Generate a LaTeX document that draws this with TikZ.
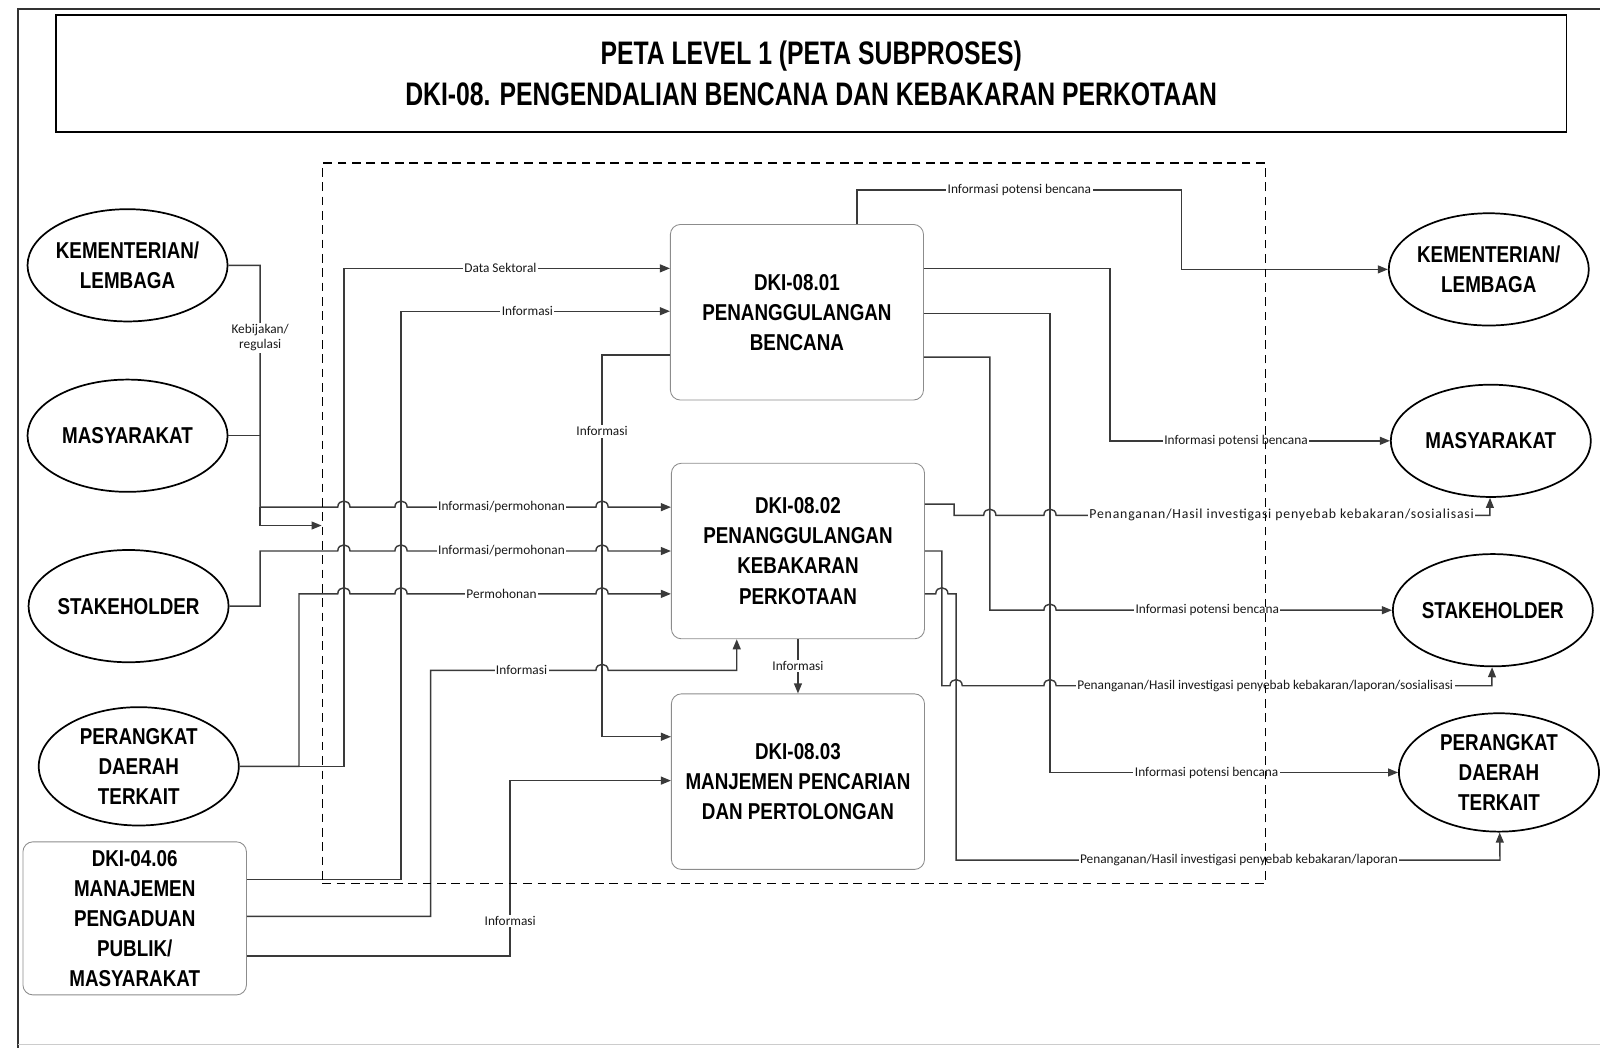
\documentclass[tikz,border=0pt]{standalone}
\usepackage{fontspec}
\setmainfont{Carlito}
\newfontfamily\petanarrow[FakeStretch=0.82]{Liberation Sans}
\newfontfamily\petajudul[FakeStretch=0.76]{Liberation Sans}
\newfontfamily\petalebar[LetterSpace=6]{Carlito}
\usetikzlibrary{arrows.meta,shapes.geometric}
\definecolor{petagaris}{HTML}{3A3A3A}
\definecolor{petatepi}{HTML}{8C8C8C}
\newcommand\petahop[2]{-- (#1-6,#2) .. controls (#1-6,#2-8) and (#1+6,#2-8) .. (#1+6,#2)}
\tikzset{%
  petaproses/.style={%
    draw=petatepi,
    line width=0.6pt,
    rounded corners=7pt,
    minimum width=6.2cm,
    minimum height=4.3cm,
    align=center,
    font=\petanarrow\bfseries\fontsize{16}{21}\selectfont
  },
  petaaktor/.style={%
    ellipse,
    draw=black,
    line width=1.2pt,
    inner sep=-14pt,
    minimum width=4.9cm,
    minimum height=2.75cm,
    align=center,
    font=\petanarrow\bfseries\fontsize{16}{21}\selectfont
  },
  petajudulbox/.style={%
    draw=black,
    line width=1pt,
    minimum width=37cm,
    minimum height=2.875cm,
    align=center,
    font=\petajudul\bfseries\fontsize{22.7}{28.5}\selectfont
  },
  petaruang/.style={draw=black,line width=1pt,dash pattern=on 6pt off 4pt,minimum width=23.1cm,minimum height=17.65cm},
  petalabel/.style={fill=white,inner sep=1pt,align=center,text=black!90,font=\fontsize{9.3}{10.5}\selectfont},
  petaline/.style={draw=petagaris,line width=1pt},
  petaarrow/.style={petaline,-{Triangle[length=7pt,width=5.5pt]}}
}
\begin{document}
\begin{tikzpicture}[x=0.025cm,y=-0.025cm]
    \useasboundingbox (0,0) rectangle (1568,1027);
    \draw[line width=1.4pt,black!80] (18,1027) -- (18,9) -- (1568,9);
    \draw[line width=0.8pt,black!20] (18,1024) -- (1568,1024);

    \node[petajudulbox] (judul) at (795,72) {PETA LEVEL 1 (PETA SUBPROSES)\\DKI-08. PENGENDALIAN BENCANA DAN KEBAKARAN PERKOTAAN};

    \node[petaaktor] (klkiri) at (125,260) {KEMENTERIAN/\\LEMBAGA};
    \node[petaaktor] (masykiri) at (125,427) {MASYARAKAT};
    \node[petaaktor] (stakkiri) at (126,594) {STAKEHOLDER};
    \node[petaaktor,minimum height=2.9cm] (pdtkiri) at (136,751) {PERANGKAT\\DAERAH\\TERKAIT};
    \node[petaproses,minimum width=5.475cm,minimum height=3.75cm] (aduan) at (132,900) {DKI-04.06\\MANAJEMEN\\PENGADUAN\\PUBLIK/\\MASYARAKAT};

    \node[petaproses] (p1) at (781,306) {DKI-08.01\\PENANGGULANGAN\\BENCANA};
    \node[petaproses] (p2) at (782,540) {DKI-08.02\\PENANGGULANGAN\\KEBAKARAN\\PERKOTAAN};
    \node[petaproses] (p3) at (782,766) {DKI-08.03\\MANJEMEN PENCARIAN\\DAN PERTOLONGAN};

    \node[petaaktor] (klkanan) at (1459,264) {KEMENTERIAN/\\LEMBAGA};
    \node[petaaktor] (masykanan) at (1461,432) {MASYARAKAT};
    \node[petaaktor] (stakkanan) at (1463,598) {STAKEHOLDER};
    \node[petaaktor,minimum height=2.9cm] (pdtkanan) at (1469,757) {PERANGKAT\\DAERAH\\TERKAIT};

    \draw[petaarrow] (klkiri.east) -- (255,260) -- node[petalabel,pos=0.3]{Kebijakan/\\regulasi} (255,497) \petahop{337}{497} \petahop{393}{497} -- node[petalabel]{Informasi/permohonan} (584,497) \petahop{590}{497} -- (p2.west |- 0,497);
    \draw[petaline] (masykiri.east) -- (255,427);
    \draw[petaarrow] (stakkiri.east) -- (255,594) -- (255,540) \petahop{337}{540} \petahop{393}{540} -- node[petalabel]{Informasi/permohonan} (584,540) \petahop{590}{540} -- (p2.west |- 0,540);
    \draw[petaarrow] (pdtkiri.east) -- (337,751) -- (337,263) -- node[petalabel,pos=0.48]{Data Sektoral} (p1.west |- 0,263);
    \draw[petaarrow] (pdtkiri.east) -- (293,751) -- (293,582) \petahop{337}{582} \petahop{393}{582} -- node[petalabel]{Permohonan} (584,582) \petahop{590}{582} -- (p2.west |- 0,582);
    \draw[petaarrow] (aduan.east |- 0,862) -- (393,862) -- (393,305) -- node[petalabel,pos=0.47]{Informasi} (p1.west |- 0,305);
    \draw[petaarrow] (aduan.east |- 0,898) -- (422,898) -- (422,657) -- node[petalabel,pos=0.55]{Informasi} (584,657) \petahop{590}{657} -- (722,657) -- (722,0 |- p2.south);
    \draw[petaarrow] (aduan.east |- 0,937) -- (500,937) -- node[petalabel,pos=0.2]{Informasi} (500,765) -- (p3.west |- 0,765);
    \draw[petaarrow] (p1.west |- 0,348) -- (590,348) -- node[petalabel,pos=0.2]{Informasi} (590,722) -- (p3.west |- 0,722);
    \draw[petaarrow] (p2.south) -- node[petalabel]{Informasi} (p2.south |- p3.north);

    \draw[petaarrow] (840,0 |- p1.north) -- (840,186) -- node[petalabel]{Informasi potensi bencana} (1158,186) -- (1158,264) -- (klkanan);
    \draw[petaarrow] (p1.east |- 0,263) -- (1088,263) -- (1088,432) -- node[petalabel,pos=0.45]{Informasi potensi bencana} (masykanan);
    \draw[petaarrow] (p1.east |- 0,307) -- (1029,307) -- (1029,757) -- node[petalabel,pos=0.45]{Informasi potensi bencana} (pdtkanan);
    \draw[petaarrow] (p1.east |- 0,350) -- (970,350) -- (970,598) \petahop{1029}{598} -- node[petalabel,pos=0.45]{Informasi potensi bencana} (stakkanan);
    \draw[petaarrow] (p2.east |- 0,494) -- (935,494) -- (935,505) \petahop{970}{505} \petahop{1029}{505} -- node[petalabel,pos=0.52,font=\petalebar\fontsize{9.6}{11}\selectfont]{Penanganan/Hasil investigasi penyebab kebakaran/sosialisasi} (1460,505) -- (masykanan);
    \draw[petaarrow] (p2.east |- 0,540) -- (923,540) -- (923,672) \petahop{937}{672} \petahop{1029}{672} -- node[petalabel,pos=0.48]{Penanganan/Hasil investigasi penyebab kebakaran/laporan/sosialisasi} (1462,672) -- (stakkanan);
    \draw[petaarrow] (p2.east |- 0,582) \petahop{923}{582} -- (937,582) -- (937,843) -- node[petalabel,pos=0.52]{Penanganan/Hasil investigasi penyebab kebakaran/laporan} (1470,843) -- (pdtkanan);

    \node[petaruang] (ruang) at (778,513) {};
    \draw[petaarrow] (255,497) -- (255,515) -- (ruang.west |- 0,515);
\end{tikzpicture}
\end{document}
